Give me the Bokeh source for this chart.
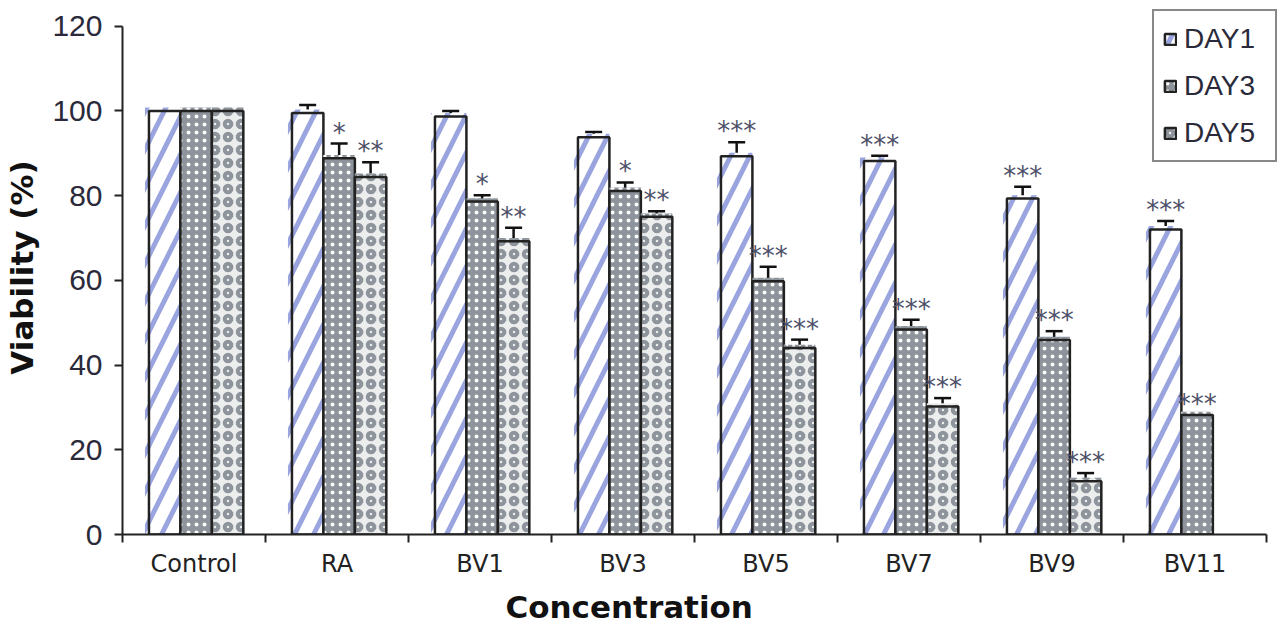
import numpy as np
from bokeh.plotting import figure
from bokeh.models import (ColumnDataSource, Range1d, FixedTicker, LinearAxis,
                          Whisker, TeeHead, Legend, LegendItem, Title)
from bokeh.core.properties import value
from bokeh.embed import file_html
from bokeh.resources import INLINE

# ---------------- data ----------------
categories = ["Control", "RA", "BV1", "BV3", "BV5", "BV7", "BV9", "BV11"]
series_names = ["DAY1", "DAY3", "DAY5"]

day1 = [100, 99.5, 98.7, 93.8, 89.3, 88.2, 79.3, 72.0]
day1_err = [0, 1.9, 1.3, 1.2, 3.3, 1.2, 2.8, 2.0]
day1_sig = ["", "", "", "", "***", "***", "***", "***"]

day3 = [100, 88.8, 78.6, 81.1, 59.8, 48.4, 45.9, 28.2]
day3_err = [0, 3.5, 1.5, 2.0, 3.4, 2.3, 2.1, 0]
day3_sig = ["", "*", "*", "*", "***", "***", "***", "***"]

day5 = [100, 84.4, 69.2, 75.0, 44.0, 30.2, 12.6, None]
day5_err = [0, 3.5, 3.2, 1.3, 2.0, 2.0, 1.9, 0]
day5_sig = ["", "**", "**", "**", "***", "***", "***", ""]

y_ticks = [0, 20, 40, 60, 80, 100, 120]

# ---------------- figure ----------------
n = len(categories)
p = figure(width=1280, height=630, output_backend="svg", toolbar_location=None,
           x_range=Range1d(0, 8.098), y_range=Range1d(0, 126.06),
           x_axis_type=None, y_axis_type=None,
           min_border_left=122, min_border_right=0, min_border_top=0,
           min_border_bottom=95)
p.outline_line_color = None
p.background_fill_color = "white"

centers = np.arange(n) + 0.5
bar_w = 0.22
shift = 0.015

styles = [
    dict(fill_color="white", hatch_pattern="/", hatch_color="#9aa4df",
         hatch_weight=5, hatch_scale=38),
    dict(fill_color="#8e949b", hatch_pattern=".", hatch_color="white",
         hatch_weight=1.5, hatch_scale=8),
    dict(fill_color="#eceded", hatch_pattern="o", hatch_color="#8e949b",
         hatch_weight=4, hatch_scale=13),
]

all_vals = [day1, day3, day5]
all_errs = [day1_err, day3_err, day5_err]
all_sigs = [day1_sig, day3_sig, day5_sig]

fill_rs, line_rs, star_srcs, whisk_srcs = [], [], [], []
for i in range(3):
    vals = all_vals[i]
    valid = [v is not None for v in vals]
    xs = centers + shift + (i - 1) * bar_w
    x_v = [float(x) for x, ok in zip(xs, valid) if ok]
    top_v = [float(v) for v in vals if v is not None]
    err_v = [float(e) for e, ok in zip(all_errs[i], valid) if ok]
    sig_v = [s for s, ok in zip(all_sigs[i], valid) if ok]
    src = ColumnDataSource(dict(x=x_v, top=top_v))
    ext = 0.028 if i == 0 else 0.0
    fsrc = ColumnDataSource(dict(x=[x - ext / 2 for x in x_v],
                                 top=[t + 0.8 for t in top_v]))
    fr = p.vbar(x="x", top="top", bottom=0, width=bar_w + ext, source=fsrc,
                line_color=None, **styles[i])
    fill_rs.append(fr)
    wx = [x for x, e in zip(x_v, err_v) if e > 0]
    wt = [t for t, e in zip(top_v, err_v) if e > 0]
    we = [e for e in err_v if e > 0]
    whisk_srcs.append(ColumnDataSource(dict(base=wx,
                                            upper=[t + e for t, e in zip(wt, we)],
                                            lower=[t - e for t, e in zip(wt, we)])))
    star_srcs.append(ColumnDataSource(dict(
        x=x_v, y=[t + e for t, e in zip(top_v, err_v)], sig=sig_v)))
    lr = p.vbar(x="x", top="top", bottom=0, width=bar_w, source=src,
                fill_color=None, line_color="#222222", line_width=2.5)
    line_rs.append(lr)

for ws in whisk_srcs:
    w = Whisker(source=ws, base="base", upper="upper", lower="lower",
                line_color="#111111", line_width=2.5,
                upper_head=TeeHead(size=17, line_width=2.5, line_color="#111111"),
                lower_head=TeeHead(size=17, line_width=2.5, line_color="#111111"))
    p.add_layout(w)

for ss in star_srcs:
    p.text(x="x", y="y", text="sig", source=ss, text_align="center",
           text_baseline="middle", y_offset=-11,
           text_font=value("DejaVu Sans"), text_font_size="26px",
           text_color="#4d5068")

# ---------------- axes ----------------
xaxis = LinearAxis(
    ticker=FixedTicker(ticks=[float(c) for c in centers],
                       minor_ticks=list(range(n + 1))),
    major_label_overrides={float(c): cat for c, cat in zip(centers, categories)},
    bounds=(0, n), axis_line_width=2, axis_line_color="#222222",
    major_tick_line_color=None, major_tick_out=8, major_tick_in=0,
    minor_tick_out=8, minor_tick_in=0, minor_tick_line_color="#222222",
    minor_tick_line_width=2,
    major_label_text_font="DejaVu Sans", major_label_text_font_size="24px",
    major_label_text_color="#222222", major_label_standoff=7)
p.add_layout(xaxis, "below")

yaxis = LinearAxis(
    ticker=FixedTicker(ticks=y_ticks), bounds=(0, 120),
    axis_label="Viability (%)", axis_label_text_font="DejaVu Sans",
    axis_label_text_font_style="bold", axis_label_text_font_size="31px",
    axis_label_standoff=9, axis_label_text_color="#111111",
    major_label_text_font="Liberation Sans", major_label_text_font_size="30px",
    major_label_text_color="#2a2a3a", major_label_standoff=12,
    major_tick_out=8, major_tick_in=0, major_tick_line_width=2,
    major_tick_line_color="#222222",
    minor_tick_line_color=None, axis_line_width=2, axis_line_color="#222222")
p.add_layout(yaxis, "left")

p.add_layout(Title(text="Concentration", align="left", offset=383,
                   text_font="DejaVu Sans", text_font_style="bold",
                   text_font_size="31px", text_color="#111111", standoff=12),
             "below")

# ---------------- legend ----------------
legend = Legend(
    items=[LegendItem(label=name, renderers=[fill_rs[i], line_rs[i]])
           for i, name in enumerate(series_names)],
    location=(1030, 372), orientation="vertical",
    label_text_font="Liberation Sans", label_text_font_size="28px",
    label_text_color="#2a2a3a", glyph_width=14, glyph_height=14,
    label_height=37, label_width=82, label_standoff=7, spacing=10,
    padding=9, margin=0,
    border_line_color="#111111", border_line_width=2,
    background_fill_color="white", background_fill_alpha=1)
p.add_layout(legend)

open("out.html", "w").write(file_html(p, INLINE))
